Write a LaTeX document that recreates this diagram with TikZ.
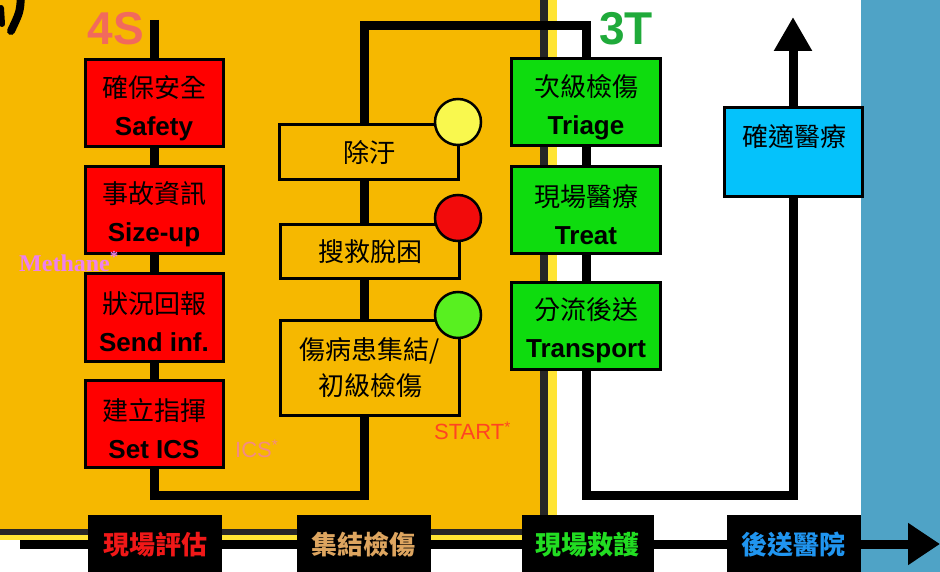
\documentclass[tikz,border=0pt]{standalone}
\usepackage{fontspec}
\setmainfont{Liberation Sans}
\newfontfamily\cjk{Noto Sans CJK TC}
\newfontfamily\serifm{Liberation Serif}
\usetikzlibrary{arrows.meta}
\definecolor{bgor}{HTML}{F6B800}
\definecolor{edgey}{HTML}{FFE433}
\definecolor{strip}{HTML}{4FA3C6}
\definecolor{redS}{HTML}{FF0000}
\definecolor{greenT}{HTML}{0EDC0E}
\definecolor{blueH}{HTML}{05C2FB}
\definecolor{circY}{HTML}{F9F84E}
\definecolor{circR}{HTML}{F20B0B}
\definecolor{circG}{HTML}{58F020}
\definecolor{fourS}{HTML}{F26A5C}
\definecolor{threeT}{HTML}{1FAA3A}
\definecolor{methc}{HTML}{EE80EE}
\definecolor{icsc}{HTML}{F48A84}
\definecolor{startc}{HTML}{FF4422}
\definecolor{tlred}{HTML}{F01818}
\definecolor{tltan}{HTML}{DDA560}
\definecolor{tlgreen}{HTML}{22DD22}
\definecolor{tlblue}{HTML}{2095F0}
\pgfdeclarelayer{back}
\pgfdeclarelayer{mid}
\pgfsetlayers{back,mid,main}
\newcommand{\upstrut}{\rule{0pt}{31pt}}
\tikzset{
  conn/.style={line width=9pt, line join=miter, draw=black},
  sbox/.style={draw=black, line width=3pt, fill=redS, minimum width=138pt, minimum height=87pt, align=center, inner sep=0pt, font=\fontsize{26}{38}\selectfont},
  tbox/.style={sbox, fill=greenT, minimum width=149pt},
  mbox/.style={draw=black, line width=3pt, fill=bgor, minimum width=179pt, align=center, inner sep=0pt, font=\fontsize{26}{36}\selectfont\cjk},
  circ/.style={circle, draw=black, line width=2.5pt, minimum size=46pt, inner sep=0pt},
  tlab/.style={fill=black, draw=black, minimum width=133pt, minimum height=60pt, inner sep=0pt, font=\fontsize{26}{30}\selectfont\cjk\bfseries},
  note/.style={inner sep=0pt, font=\fontsize{22}{24}\selectfont},
  big/.style={inner sep=0pt, font=\fontsize{46}{48}\selectfont\bfseries}
}
\begin{document}
\begin{tikzpicture}[x=1pt,y=-1pt]
\useasboundingbox (0,0) rectangle (940,572);
\clip (0,0) rectangle (940,572);
\begin{pgfonlayer}{back}
  \fill[white] (0,0) rectangle (940,572);
  \fill[strip] (861,0) rectangle (940,572);
  \fill[edgey] (0,0) rectangle (557,540);
  \fill[black!85] (0,0) rectangle (548,535);
  \fill[bgor] (0,0) rectangle (540,529);
  % partial glyph at top left
  \draw[line width=8pt, line cap=round] (21,-4) .. controls (20,12) .. (11,31);
  \draw[line width=6pt, line cap=round] (1,8) -- (2,24);
\end{pgfonlayer}

% titles
\node[big, text=fourS] (t4s) at (116,29) {4S};
\node[big, text=threeT] (t3t) at (626,29) {3T};

% 4S column
\node[sbox] (s1) at (154,103.5) {\upstrut{\cjk 確保安全}\\\textbf{Safety}};
\node[sbox] (s2) at (154,210) {\upstrut{\cjk 事故資訊}\\\textbf{Size-up}};
\node[sbox] (s3) at (154,317.5) {\upstrut{\cjk 狀況回報}\\\textbf{Send inf.}};
\node[sbox] (s4) at (154,424) {\upstrut{\cjk 建立指揮}\\\textbf{Set ICS}};

% middle column
\node[mbox, minimum height=55pt] (m1) at (369,152.5) {除汙};
\node[mbox, minimum height=53pt] (m2) at (370,251.5) {搜救脫困};
\node[mbox, minimum height=95pt] (m3) at (370,367.5) {傷病患集結/\\初級檢傷};
\node[circ, fill=circY] (c1) at (458,122) {};
\node[circ, fill=circR] (c2) at (458,218) {};
\node[circ, fill=circG] (c3) at (458,315) {};

% 3T column
\node[tbox] (g1) at (586,102.5) {\upstrut{\cjk 次級檢傷}\\\textbf{Triage}};
\node[tbox] (g2) at (586,210) {\upstrut{\cjk 現場醫療}\\\textbf{Treat}};
\node[tbox] (g3) at (586,326) {\upstrut{\cjk 分流後送}\\\textbf{Transport}};

% hospital
\node[draw=black, line width=3pt, fill=blueH, minimum width=138pt, minimum height=89pt, inner sep=0pt] (h) at (793,152.5) {};
\node[inner sep=0pt, font=\fontsize{26}{30}\selectfont\cjk] (htxt) at (794,137) {確適醫療};

% notes
\node[note, font=\fontsize{24}{26}\selectfont\serifm\bfseries, text=methc] (meth) at (69,262) {Methane\textsuperscript{*}};
\node[note, text=icsc, anchor=west] (ics) at (235,449) {ICS\textsuperscript{*}};
\node[note, text=startc, anchor=west] (start) at (434,431) {START\textsuperscript{*}};

% connectors
\coordinate (top4S) at (154,20);
\coordinate (cb1) at (364,495);
\coordinate (cb2) at (364,26);
\coordinate (cb3) at (793,495);
\coordinate (tip) at (793,17);
\begin{pgfonlayer}{mid}
  \draw[conn] (top4S) -- (s4.south) |- (cb1) -- (cb2) -| (g3.south) |- (cb3) -- (h.south);
  \draw[conn, -{Triangle[width=36pt,length=34pt]}] (h.north) -- (tip);
\end{pgfonlayer}

% timeline
\coordinate (tl0) at (20,544);
\coordinate (tl1) at (940,544);
\begin{pgfonlayer}{mid}
  \draw[line width=9pt, -{Triangle[width=40pt,length=32pt]}] (tl0) -- (tl1);
\end{pgfonlayer}
\node[tlab, text=tlred] (p1) at (155,545) {現場評估};
\node[tlab, text=tltan] (p2) at (363.5,545) {集結檢傷};
\node[tlab, text=tlgreen, minimum width=131pt] (p3) at (587.5,545) {現場救護};
\node[tlab, text=tlblue] (p4) at (793.5,545) {後送醫院};
\end{tikzpicture}
\end{document}
